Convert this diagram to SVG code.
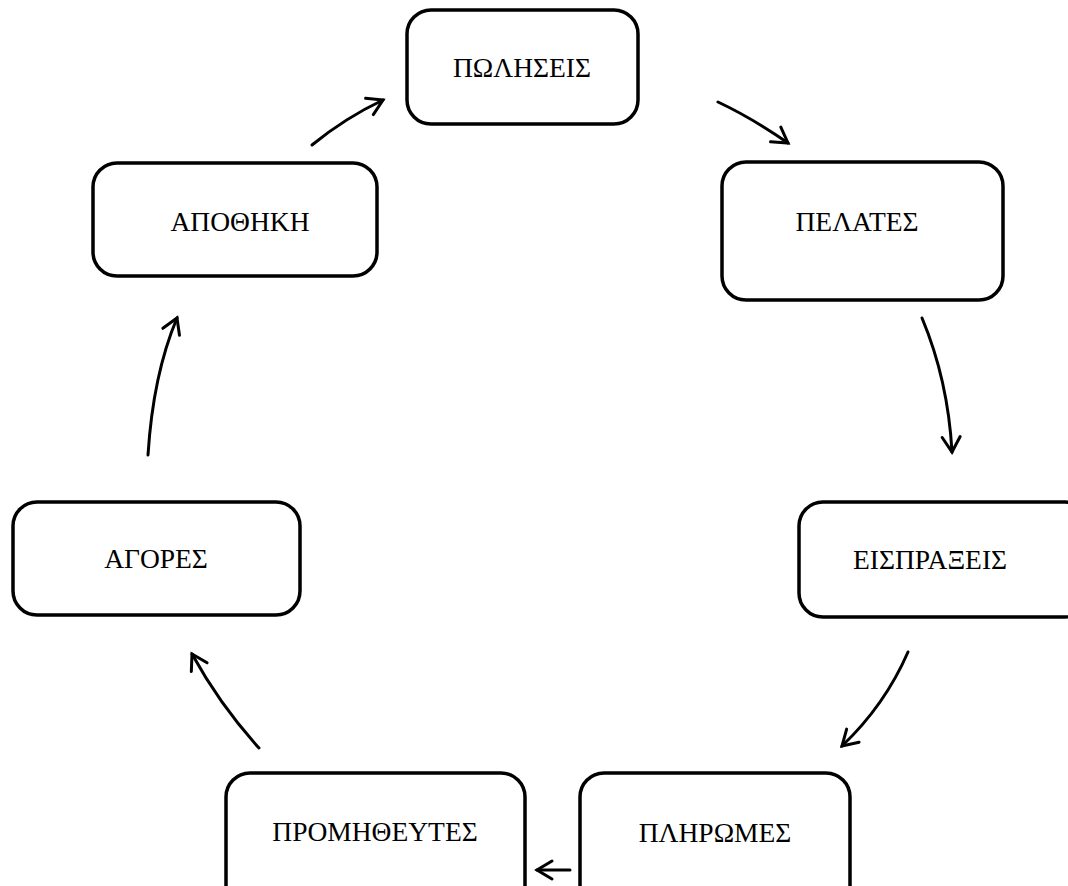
<svg xmlns="http://www.w3.org/2000/svg" width="1068" height="886" viewBox="0 0 1068 886">
<defs>
<style>
.box{fill:#fff;stroke:#000;stroke-width:3.5}
.lbl{font-family:"Liberation Serif","Times New Roman",serif;font-size:27.5px;fill:#000;text-anchor:middle}
.arr{fill:none;stroke:#000;stroke-width:3;stroke-linecap:round;marker-end:url(#ah)}
</style>
<marker id="ah" viewBox="-18 -12 22 24" refX="0" refY="0" markerWidth="22" markerHeight="24" markerUnits="userSpaceOnUse" orient="auto">
<path d="M-15,-9 L0,0 L-15,9" fill="none" stroke="#000" stroke-width="3" stroke-linecap="round" stroke-linejoin="miter"/>
</marker>
</defs>
<rect width="1068" height="886" fill="#fff"/>
<g id="n-poliseis"><rect class="box" x="407" y="10" width="231" height="114" rx="24"/><text class="lbl" x="522" y="77">ΠΩΛΗΣΕΙΣ</text></g>
<g id="n-pelates"><rect class="box" x="722" y="162" width="281" height="138" rx="24"/><text class="lbl" x="857" y="231">ΠΕΛΑΤΕΣ</text></g>
<g id="n-apothiki"><rect class="box" x="93" y="163" width="284" height="113" rx="24"/><text class="lbl" x="240" y="231">ΑΠΟΘΗΚΗ</text></g>
<g id="n-eispraxeis"><rect class="box" x="799" y="502" width="290" height="115" rx="24"/><text class="lbl" x="930" y="569">ΕΙΣΠΡΑΞΕΙΣ</text></g>
<g id="n-agores"><rect class="box" x="13" y="502" width="287" height="113" rx="24"/><text class="lbl" x="156" y="568">ΑΓΟΡΕΣ</text></g>
<g id="n-pliromes"><rect class="box" x="580" y="773" width="270" height="140" rx="24"/><text class="lbl" x="715" y="842">ΠΛΗΡΩΜΕΣ</text></g>
<g id="n-promitheutes"><rect class="box" x="226" y="773" width="299" height="140" rx="24"/><text class="lbl" x="375" y="841">ΠΡΟΜΗΘΕΥΤΕΣ</text></g>
<g id="connectors">
<path class="arr" d="M312,145 Q345,118 383,100"/>
<path class="arr" d="M718,102 Q752,118 788,143"/>
<path class="arr" d="M922,318 Q948,380 952,452"/>
<path class="arr" d="M908,652 Q885,705 842,746"/>
<path class="arr" d="M570,870 L537,870"/>
<path class="arr" d="M259,748 Q220,705 192,654"/>
<path class="arr" d="M148,455 Q153,375 177,318"/>
</g>
</svg>
